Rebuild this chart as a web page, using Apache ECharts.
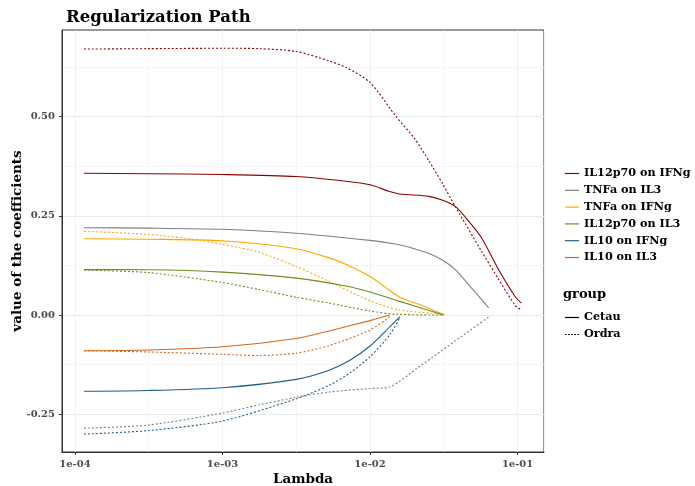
<!DOCTYPE html>
<html>
<head>
<meta charset="utf-8">
<script src="https://cdn.jsdelivr.net/npm/echarts@6/dist/echarts.min.js"></script>
<style>html,body{margin:0;padding:0;background:#fff}#c{width:695px;height:486px}</style>
</head>
<body>
<div id="c"></div>
<script>
// ---- data ----
const seriesNames = ['IL12p70 on IFNg', 'TNFa on IL3', 'TNFa on IFNg', 'IL12p70 on IL3', 'IL10 on IFNg', 'IL10 on IL3'];
const groups = ['Cetau', 'Ordra'];
const xTickValues = [1e-4, 1e-3, 1e-2, 1e-1];
const xTickLabels = ['1e-04', '1e-03', '1e-02', '1e-01'];
const yTickValues = [-0.25, 0, 0.25, 0.5];
const yTickLabels = ['-0.25', '0.00', '0.25', '0.50'];
const yMinorValues = [-0.125, 0.125, 0.375, 0.625];

// IL12p70 on IFNg
const lamIL12IFNgCetau = [1.15e-4, 3.16e-4, 1e-3, 3.16e-3, 6.86e-3, 1e-2, 1.34e-2, 1.6e-2, 2.5e-2, 3.11e-2, 3.8e-2, 4.67e-2, 5.71e-2, 7.44e-2, 9.64e-2, 0.106];
const valIL12IFNgCetau = [0.357, 0.356, 0.354, 0.349, 0.337, 0.328, 0.312, 0.305, 0.299, 0.289, 0.273, 0.236, 0.194, 0.114, 0.046, 0.03];
const lamIL12IFNgOrdra = [1.15e-4, 3.16e-4, 1e-3, 1.78e-3, 3.16e-3, 5.28e-3, 6.86e-3, 1e-2, 1.5e-2, 2.0e-2, 2.51e-2, 3.11e-2, 3.8e-2, 5.71e-2, 7.44e-2, 9.64e-2, 0.106];
const valIL12IFNgOrdra = [0.670, 0.671, 0.672, 0.671, 0.664, 0.640, 0.624, 0.586, 0.500, 0.445, 0.388, 0.330, 0.272, 0.160, 0.090, 0.024, 0.013];
// TNFa on IL3
const lamTNFaIL3Cetau = [1.15e-4, 3.16e-4, 1e-3, 3.16e-3, 1e-2, 1.48e-2, 1.8e-2, 2.51e-2, 3.11e-2, 3.8e-2, 4.67e-2, 6.37e-2];
const valTNFaIL3Cetau = [0.220, 0.219, 0.216, 0.206, 0.188, 0.179, 0.172, 0.155, 0.138, 0.114, 0.076, 0.018];
const lamTNFaIL3Ordra = [1.15e-4, 3.16e-4, 1e-3, 1.78e-3, 3.16e-3, 5.28e-3, 1e-2, 1.36e-2, 2.14e-2, 4.5e-2, 6.37e-2];
const valTNFaIL3Ordra = [-0.285, -0.277, -0.247, -0.226, -0.207, -0.194, -0.185, -0.181, -0.131, -0.045, -0.005];
// TNFa on IFNg
const lamTNFaIFNgCetau = [1.15e-4, 3.16e-4, 1e-3, 3.16e-3, 5.28e-3, 6.86e-3, 1e-2, 1.26e-2, 1.6e-2, 2.14e-2, 3.2e-2];
const valTNFaIFNgCetau = [0.192, 0.191, 0.187, 0.167, 0.144, 0.128, 0.097, 0.071, 0.044, 0.027, 0.0];
const lamTNFaIFNgOrdra = [1.15e-4, 3.16e-4, 7e-4, 1e-3, 1.78e-3, 3.16e-3, 5.28e-3, 1e-2, 1.57e-2, 3.15e-2];
const valTNFaIFNgOrdra = [0.211, 0.203, 0.189, 0.178, 0.158, 0.122, 0.085, 0.036, 0.013, 0.002];
// IL12p70 on IL3
const lamIL12IL3Cetau = [1.15e-4, 3.16e-4, 1e-3, 3.16e-3, 6.86e-3, 1e-2, 1.57e-2, 3.15e-2];
const valIL12IL3Cetau = [0.1145, 0.114, 0.108, 0.093, 0.073, 0.058, 0.035, 0.0];
const lamIL12IL3Ordra = [1.15e-4, 3.16e-4, 1e-3, 1.78e-3, 3.16e-3, 5.28e-3, 1e-2, 1.5e-2, 3.15e-2];
const valIL12IL3Ordra = [0.113, 0.107, 0.082, 0.064, 0.045, 0.030, 0.010, 0.002, 0.0];
// IL10 on IFNg
const lamIL10IFNgCetau = [1.15e-4, 3.16e-4, 1e-3, 3.16e-3, 5.28e-3, 7.3e-3, 1e-2, 1.36e-2, 1.6e-2];
const valIL10IFNgCetau = [-0.192, -0.190, -0.183, -0.162, -0.139, -0.114, -0.078, -0.030, -0.004];
const lamIL10IFNgOrdra = [1.15e-4, 3.16e-4, 1e-3, 3.16e-3, 5.28e-3, 7.3e-3, 1e-2, 1.36e-2, 1.6e-2];
const valIL10IFNgOrdra = [-0.300, -0.291, -0.267, -0.211, -0.177, -0.146, -0.105, -0.050, -0.005];
// IL10 on IL3
const lamIL10IL3Cetau = [1.15e-4, 3.16e-4, 1e-3, 3.16e-3, 5.28e-3, 1e-2, 1.36e-2];
const valIL10IL3Cetau = [-0.090, -0.088, -0.080, -0.059, -0.040, -0.014, 0.0];
const lamIL10IL3Ordra = [1.15e-4, 3.16e-4, 1e-3, 1.78e-3, 3.16e-3, 5.28e-3, 1e-2, 1.36e-2];
const valIL10IL3Ordra = [-0.090, -0.093, -0.099, -0.102, -0.096, -0.077, -0.038, -0.004];

const colors = ['#8B0000', '#808080', '#FFA500', '#6B8E23', '#1F5F87', '#D2691E'];
const pairs = [
  [[lamIL12IFNgCetau, valIL12IFNgCetau], [lamIL12IFNgOrdra, valIL12IFNgOrdra]],
  [[lamTNFaIL3Cetau, valTNFaIL3Cetau], [lamTNFaIL3Ordra, valTNFaIL3Ordra]],
  [[lamTNFaIFNgCetau, valTNFaIFNgCetau], [lamTNFaIFNgOrdra, valTNFaIFNgOrdra]],
  [[lamIL12IL3Cetau, valIL12IL3Cetau], [lamIL12IL3Ordra, valIL12IL3Ordra]],
  [[lamIL10IFNgCetau, valIL10IFNgCetau], [lamIL10IFNgOrdra, valIL10IFNgOrdra]],
  [[lamIL10IL3Cetau, valIL10IL3Cetau], [lamIL10IL3Ordra, valIL10IL3Ordra]]
];

const FONT = 'DejaVu Serif';
const zip = (a, b) => a.map((x, i) => [x, b[i]]);
const fmtX = v => { const i = xTickValues.findIndex(t => Math.abs(Math.log10(v) - Math.log10(t)) < 1e-6); return i >= 0 ? xTickLabels[i] : ''; };
const fmtY = v => { const i = yTickValues.findIndex(t => Math.abs(v - t) < 1e-9); return i >= 0 ? yTickLabels[i] : ''; };

const series = [];
pairs.forEach((p, i) => {
  p.forEach((g, j) => {
    series.push({
      name: seriesNames[i], type: 'line', xAxisIndex: 0, yAxisIndex: 0,
      data: zip(g[0], g[1]), showSymbol: false, symbol: 'none', smooth: 0.25,
      z: j === 0 ? 3 : 2,
      lineStyle: { color: colors[i], width: 1.1, type: j === 0 ? 'solid' : [2, 2] },
      itemStyle: { color: colors[i] }, silent: true
    });
  });
});
groups.forEach((g, j) => {
  series.push({ name: g, type: 'line', data: [], symbol: 'none', xAxisIndex: 0, yAxisIndex: 0,
    lineStyle: { color: '#000', width: 1.1, type: j === 0 ? 'solid' : [1.5, 1.5] }, itemStyle: { color: '#000' } });
});

const xMin = 8.17e-5, xMax = 0.151, yMin = -0.345, yMax = 0.718;
const labelStyle = { fontFamily: FONT, fontWeight: 'bold', fontSize: 10, color: '#4d4d4d' };
const solidIcon = 'path://M0,0h14v1.2h-14z';
const dotIcon = 'path://M0,0h1.6v1.2h-1.6zM3,0h1.6v1.2h-1.6zM6,0h1.6v1.2h-1.6zM9,0h1.6v1.2h-1.6zM12,0h1.6v1.2h-1.6z';

const option = {
  animation: false,
  textStyle: { fontFamily: FONT },
  title: [
    { text: 'Regularization Path', left: 61, top: 4, textStyle: { fontFamily: FONT, fontWeight: 'bold', fontSize: 16.5, color: '#000' } },
    { text: 'group', left: 558, top: 283, textStyle: { fontFamily: FONT, fontWeight: 'bold', fontSize: 13, color: '#000' } }
  ],
  grid: { left: 62, right: 151, top: 30, bottom: 34, show: true, borderColor: '#333', borderWidth: 1, backgroundColor: 'transparent', containLabel: false, outerBoundsMode: 'none' },
  legend: [
    { data: seriesNames.map(n => ({ name: n, icon: solidIcon })), orient: 'vertical', left: 560, top: 163, itemWidth: 14, itemHeight: 12, itemGap: 5.8,
      textStyle: { fontFamily: FONT, fontWeight: 'bold', fontSize: 11.2, color: '#000' }, selectedMode: false },
    { data: [{ name: groups[0], icon: solidIcon }, { name: groups[1], icon: dotIcon }], orient: 'vertical', left: 560, top: 307, itemWidth: 14, itemHeight: 12, itemGap: 6,
      textStyle: { fontFamily: FONT, fontWeight: 'bold', fontSize: 11.2, color: '#000' }, selectedMode: false }
  ],
  xAxis: [
    { type: 'log', logBase: 10, min: xMin, max: xMax, name: 'Lambda', nameLocation: 'middle', nameGap: 20, nameMoveOverlap: false,
      nameTextStyle: { fontFamily: FONT, fontWeight: 'bold', fontSize: 13.5, color: '#000' },
      axisLine: { show: true, onZero: false, lineStyle: { color: '#333', width: 1 } },
      axisTick: { show: true, length: 3, lineStyle: { color: '#333' } },
      axisLabel: Object.assign({ formatter: fmtX, margin: 7, showMinLabel: false, showMaxLabel: false }, labelStyle),
      splitLine: { show: true, lineStyle: { color: '#ebebeb', width: 1 } } },
    { type: 'log', logBase: Math.sqrt(10), min: xMin, max: xMax, position: 'bottom',
      axisLine: { show: false, onZero: false }, axisTick: { show: false }, axisLabel: { show: false },
      splitLine: { show: true, lineStyle: { color: '#f2f2f2', width: 0.8 } } }
  ],
  yAxis: [
    { type: 'value', min: yMin, max: yMax, name: 'value of the coefficients', nameLocation: 'middle', nameGap: 38, nameMoveOverlap: false,
      nameTextStyle: { fontFamily: FONT, fontWeight: 'bold', fontSize: 13.5, color: '#000' },
      axisLine: { show: true, onZero: false, lineStyle: { color: '#333', width: 1 } },
      axisTick: { show: true, length: 3, customValues: yTickValues, lineStyle: { color: '#333' } },
      axisLabel: Object.assign({ formatter: fmtY, margin: 7, customValues: yTickValues }, labelStyle),
      splitLine: { show: true, lineStyle: { color: '#ebebeb', width: 1 } } },
    { type: 'value', min: yMin, max: yMax, position: 'left',
      axisLine: { show: false, onZero: false }, axisTick: { show: false, customValues: yMinorValues }, axisLabel: { show: false, customValues: yMinorValues },
      splitLine: { show: true, lineStyle: { color: '#f2f2f2', width: 0.8 } } }
  ],
  series: series
};
const chart = echarts.init(document.getElementById('c'), null, { renderer: 'canvas' });
chart.setOption(option);
</script>
</body>
</html>
